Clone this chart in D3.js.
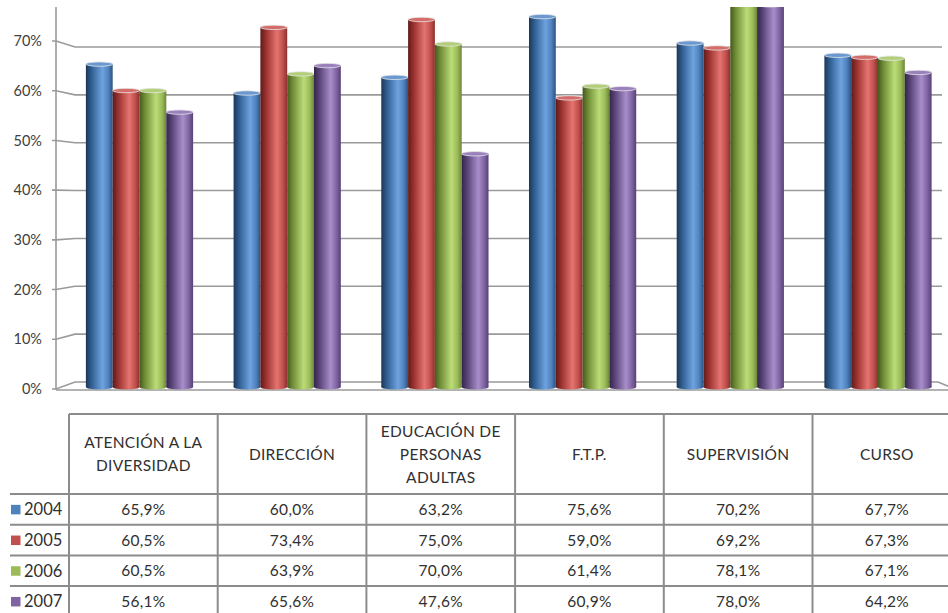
<!DOCTYPE html>
<html>
<head>
<meta charset="utf-8">
<script src="https://cdn.jsdelivr.net/npm/d3@7"></script>
<style>
  html, body { margin: 0; padding: 0; background: #fff; }
  svg { display: block; }
  text { font-family: Lato, "Open Sans", sans-serif; }
</style>
</head>
<body>
<svg id="chart" width="948" height="613"></svg>
<script>
// Categories (columns of the data table)
const categories = [
  "ATENCIÓN A LA DIVERSIDAD",
  "DIRECCIÓN",
  "EDUCACIÓN DE PERSONAS ADULTAS",
  "F.T.P.",
  "SUPERVISIÓN",
  "CURSO"
];
// Header text broken into lines as shown in the table
const headerLines = [
  ["ATENCIÓN A LA", "DIVERSIDAD"],
  ["DIRECCIÓN"],
  ["EDUCACIÓN DE", "PERSONAS", "ADULTAS"],
  ["F.T.P."],
  ["SUPERVISIÓN"],
  ["CURSO"]
];
const years = ["2004", "2005", "2006", "2007"];
const values2004 = [0.659, 0.600, 0.632, 0.756, 0.702, 0.677];
const values2005 = [0.605, 0.734, 0.750, 0.590, 0.692, 0.673];
const values2006 = [0.605, 0.639, 0.700, 0.614, 0.781, 0.671];
const values2007 = [0.561, 0.656, 0.476, 0.609, 0.780, 0.642];
const seriesValues = [values2004, values2005, values2006, values2007];
const tickValues = [0, 0.1, 0.2, 0.3, 0.4, 0.5, 0.6, 0.7];

// Colour ramps per series: [dark edge, shade, highlight, body, right edge]
const palette = {
  "2004": { base: "#4f81bd", stops: ["#1c3656", "#2f5d90", "#6ea3e0", "#4f81bd", "#2c5380"], cap: "#6a98d0" },
  "2005": { base: "#c0504d", stops: ["#5e1b1a", "#98302e", "#e57470", "#c0504d", "#8c302d"], cap: "#d46c69" },
  "2006": { base: "#9bbb59", stops: ["#46591e", "#6f8c36", "#bcdc78", "#9bbb59", "#6c8637"], cap: "#b2cf78" },
  "2007": { base: "#8064a2", stops: ["#33264a", "#584276", "#a88ecb", "#8064a2", "#574175"], cap: "#9a80bc" }
};

const svg = d3.select("#chart");
const fmtTick = d3.format(".0%");
const fmtCell = v => d3.format(".1f")(v * 100).replace(".", ",") + "%";
const textColor = "#303030";

// Scales: front axis edge, back wall, and bar height (depth-centred)
const yFront = d3.scaleLinear().domain([0, 0.7]).range([389, 41]);
const yBack = d3.scaleLinear().domain([0, 0.7]).range([382, 47]);
const yBar = d3.scaleLinear().domain([0, 1]).range([387, -103]);

const xGroup = d3.scaleBand().domain(categories)
  .range([65.65, 951.85]).paddingInner(0.274).paddingOuter(0.137);
const xYear = d3.scaleBand().domain(years).range([0, xGroup.bandwidth()]);
const xTable = d3.scaleBand().domain(categories).range([69, 69 + 6 * 148.7]);

const axisX = 56, wallX = 75, wallRight = 940;
const gridColor = "#9a9a9a";

// Gradients for the cylinders
const defs = svg.append("defs");
years.forEach(yr => {
  const g = defs.append("linearGradient").attr("id", "grad" + yr)
    .attr("x1", "0%").attr("x2", "100%").attr("y1", "0%").attr("y2", "0%");
  const offs = [0, 0.2, 0.62, 0.84, 1];
  palette[yr].stops.forEach((c, i) => g.append("stop").attr("offset", offs[i]).attr("stop-color", c));
});
defs.append("clipPath").attr("id", "plotClip")
  .append("rect").attr("x", 0).attr("y", 7).attr("width", 948).attr("height", 400);

// Gridlines on the wall with the perspective step from the axis
const grid = svg.append("g");
tickValues.forEach(t => {
  const pts = [[axisX - 4, yFront(t)], [axisX, yFront(t)], [wallX, yBack(t)], [t === 0 ? wallRight - 2 : 942, yBack(t)]];
  if (t === 0) pts.push([wallRight + 17, 390]);
  grid.append("path")
    .attr("d", d3.line()(pts))
    .attr("fill", "none").attr("stroke", gridColor).attr("stroke-width", 1.6);
});
// Floor front edge
grid.append("line").attr("x1", axisX).attr("x2", 948)
  .attr("y1", 390).attr("y2", 390).attr("stroke", gridColor).attr("stroke-width", 1.6);
// Vertical axis
grid.append("line").attr("x1", axisX).attr("x2", axisX)
  .attr("y1", 7).attr("y2", 390).attr("stroke", gridColor).attr("stroke-width", 1.6);

// Tick labels
svg.append("g").selectAll("text").data(tickValues).join("text")
  .attr("x", 42).attr("y", d => yFront(d)).attr("dy", "0.35em")
  .attr("text-anchor", "end").attr("font-size", 14.5).attr("fill", "#404040")
  .text(d => fmtTick(d));

// Cylinder bars
const bars = svg.append("g").attr("clip-path", "url(#plotClip)");
categories.forEach((cat, ci) => {
  years.forEach((yr, si) => {
    const v = seriesValues[si][ci];
    const x0 = xGroup(cat) + xYear(yr);
    const w = xYear.bandwidth();
    const top = yBar(v), base = yBar(0);
    const g = bars.append("g");
    g.append("ellipse").attr("cx", x0 + w / 2).attr("cy", base).attr("rx", w / 2).attr("ry", 2.5)
      .attr("fill", `url(#grad${yr})`);
    g.append("rect").attr("x", x0).attr("y", top).attr("width", w).attr("height", base - top)
      .attr("fill", `url(#grad${yr})`);
    g.append("ellipse").attr("cx", x0 + w / 2).attr("cy", top).attr("rx", w / 2).attr("ry", 2.2)
      .attr("fill", palette[yr].cap).attr("stroke", "#e6e6e6").attr("stroke-width", 0.8);
  });
});

// Data table
const table = svg.append("g");
const tableTop = 414, headerBottom = 494, rowH = 30.7;
const tableRight = 69 + 6 * 148.7;
const lineColor = "#8c8c8c";
table.append("line").attr("x1", 69).attr("x2", tableRight).attr("y1", tableTop).attr("y2", tableTop)
  .attr("stroke", lineColor).attr("stroke-width", 2);
years.forEach((yr, i) => {
  const y = headerBottom + i * rowH;
  table.append("line").attr("x1", 10).attr("x2", tableRight).attr("y1", y).attr("y2", y)
    .attr("stroke", lineColor).attr("stroke-width", 2);
});
categories.forEach(cat => {
  table.append("line").attr("x1", xTable(cat)).attr("x2", xTable(cat))
    .attr("y1", tableTop).attr("y2", 613).attr("stroke", lineColor).attr("stroke-width", 2);
});

// Header text
categories.forEach((cat, ci) => {
  const lines = headerLines[ci];
  const cx = xTable(cat) + xTable.bandwidth() / 2;
  const cy = (tableTop + headerBottom) / 2;
  const lh = 23;
  lines.forEach((ln, li) => {
    table.append("text").attr("x", cx)
      .attr("y", cy + (li - (lines.length - 1) / 2) * lh).attr("dy", "0.36em")
      .attr("text-anchor", "middle").attr("font-size", 15.5).attr("letter-spacing", 0.3)
      .attr("fill", textColor).text(ln);
  });
});

// Legend keys and values
years.forEach((yr, si) => {
  const cy = headerBottom + si * rowH + rowH / 2;
  table.append("rect").attr("x", 11).attr("y", cy - 4.5).attr("width", 9.5).attr("height", 9.5)
    .attr("fill", palette[yr].base);
  table.append("text").attr("x", 24).attr("y", cy).attr("dy", "0.36em")
    .attr("font-size", 16.5).attr("fill", textColor).text(yr);
  categories.forEach((cat, ci) => {
    table.append("text").attr("x", xTable(cat) + xTable.bandwidth() / 2).attr("y", cy).attr("dy", "0.36em")
      .attr("text-anchor", "middle").attr("font-size", 15.5).attr("letter-spacing", 0.3)
      .attr("fill", textColor).text(fmtCell(seriesValues[si][ci]));
  });
});
</script>
</body>
</html>
